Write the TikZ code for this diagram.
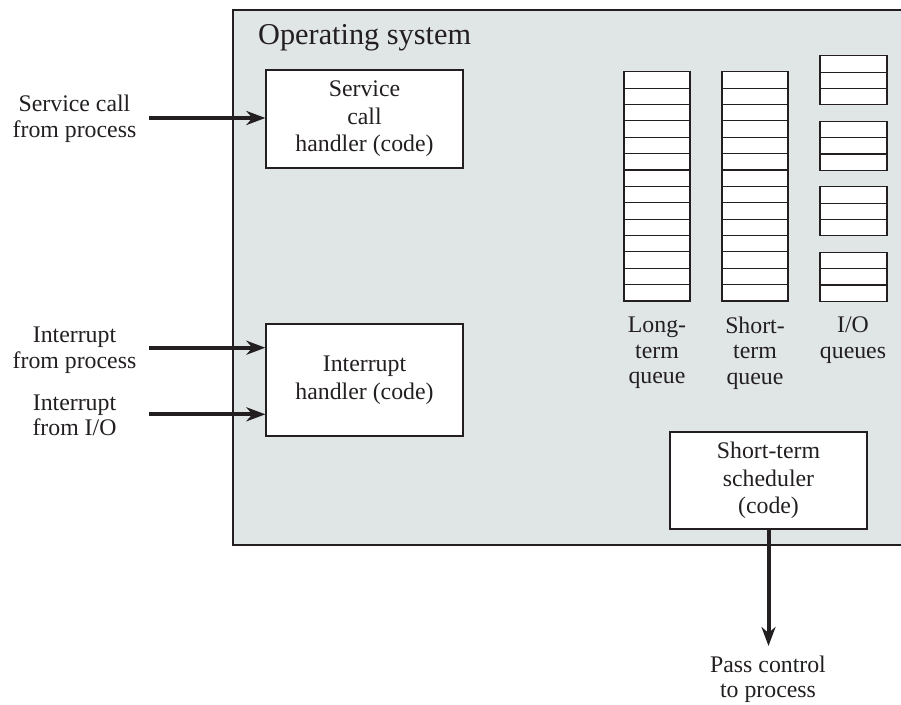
\documentclass[tikz,border=0pt]{standalone}
\usepackage{fontspec}
\setmainfont{Liberation Serif}
\usetikzlibrary{arrows.meta}
\definecolor{osfill}{RGB}{224,230,230}
\definecolor{ink}{RGB}{35,31,32}
\begin{document}
\begin{tikzpicture}[x=1pt,y=-1pt,
  box/.style={draw=ink,line width=1.3pt,fill=white,minimum width=197pt,inner sep=0pt,align=center,text=ink,font=\fontsize{23.8}{27.5}\selectfont},
  lbl/.style={align=center,font=\fontsize{23.8}{25.5}\selectfont,inner sep=0pt,text=ink},
  flow/.style={line width=4pt,draw=ink,-{Stealth[length=19pt,width=14pt,inset=6pt]}},
  cell/.style={draw=ink,line width=1.1pt,fill=white}]
\useasboundingbox (0,0) rectangle (901,704);
% operating system area
\draw[draw=ink,fill=osfill,line width=1.3pt] (233,10) rectangle (903,545);
\node[anchor=west,inner sep=0pt,text=ink,font=\fontsize{30.3}{32}\selectfont] (ostitle) at (258,38) {Operating system};

% handler boxes
\node[box,minimum height=98pt] (svc) at (364.5,119) {Service\\call\\handler (code)};
\node[box,minimum height=112pt] (irq) at (364.5,380) {Interrupt\\handler (code)};
\node[box,minimum height=97pt] (sched) at (768.5,480.5) {Short-term\\scheduler\\(code)};

% queues
\foreach \i in {0,...,13} {
  \draw[cell] (624,{71.7+\i*16.38}) rectangle ++(66,16.38);
  \draw[cell] (722,{71.7+\i*16.38}) rectangle ++(66,16.38);
}
\foreach \g in {0,...,3} {
  \foreach \j in {0,1,2} {
    \draw[cell] (820,{55.7+\g*65.5+\j*16.38}) rectangle ++(67,16.38);
  }
}
\node[lbl] (lq) at (657,353) {Long-\\term\\queue};
\node[lbl] (sq) at (755,353) {Short-\\term\\queue};
\node[lbl] (ioq) at (853,340) {I/O\\queues};

% external labels
\node[lbl] (lsvc) at (74.5,119) {Service call\\from process};
\node[lbl] (lip) at (74.5,350) {Interrupt\\from process};
\node[lbl] (lio) at (74.5,415.5) {Interrupt\\from I/O};
\node[lbl] (lpass) at (768,679.5) {Pass control\\to process};

% connectors
\coordinate (s1) at (149,118);
\coordinate (s2) at (149,347.7);
\coordinate (s3) at (149,414.3);
\coordinate (e4) at (768.5,646);
\draw[flow] (s1) -- (svc.west |- s1);
\draw[flow] (s2) -- (irq.west |- s2);
\draw[flow] (s3) -- (irq.west |- s3);
\draw[flow] (sched.south) -- (e4);
\end{tikzpicture}
\end{document}
